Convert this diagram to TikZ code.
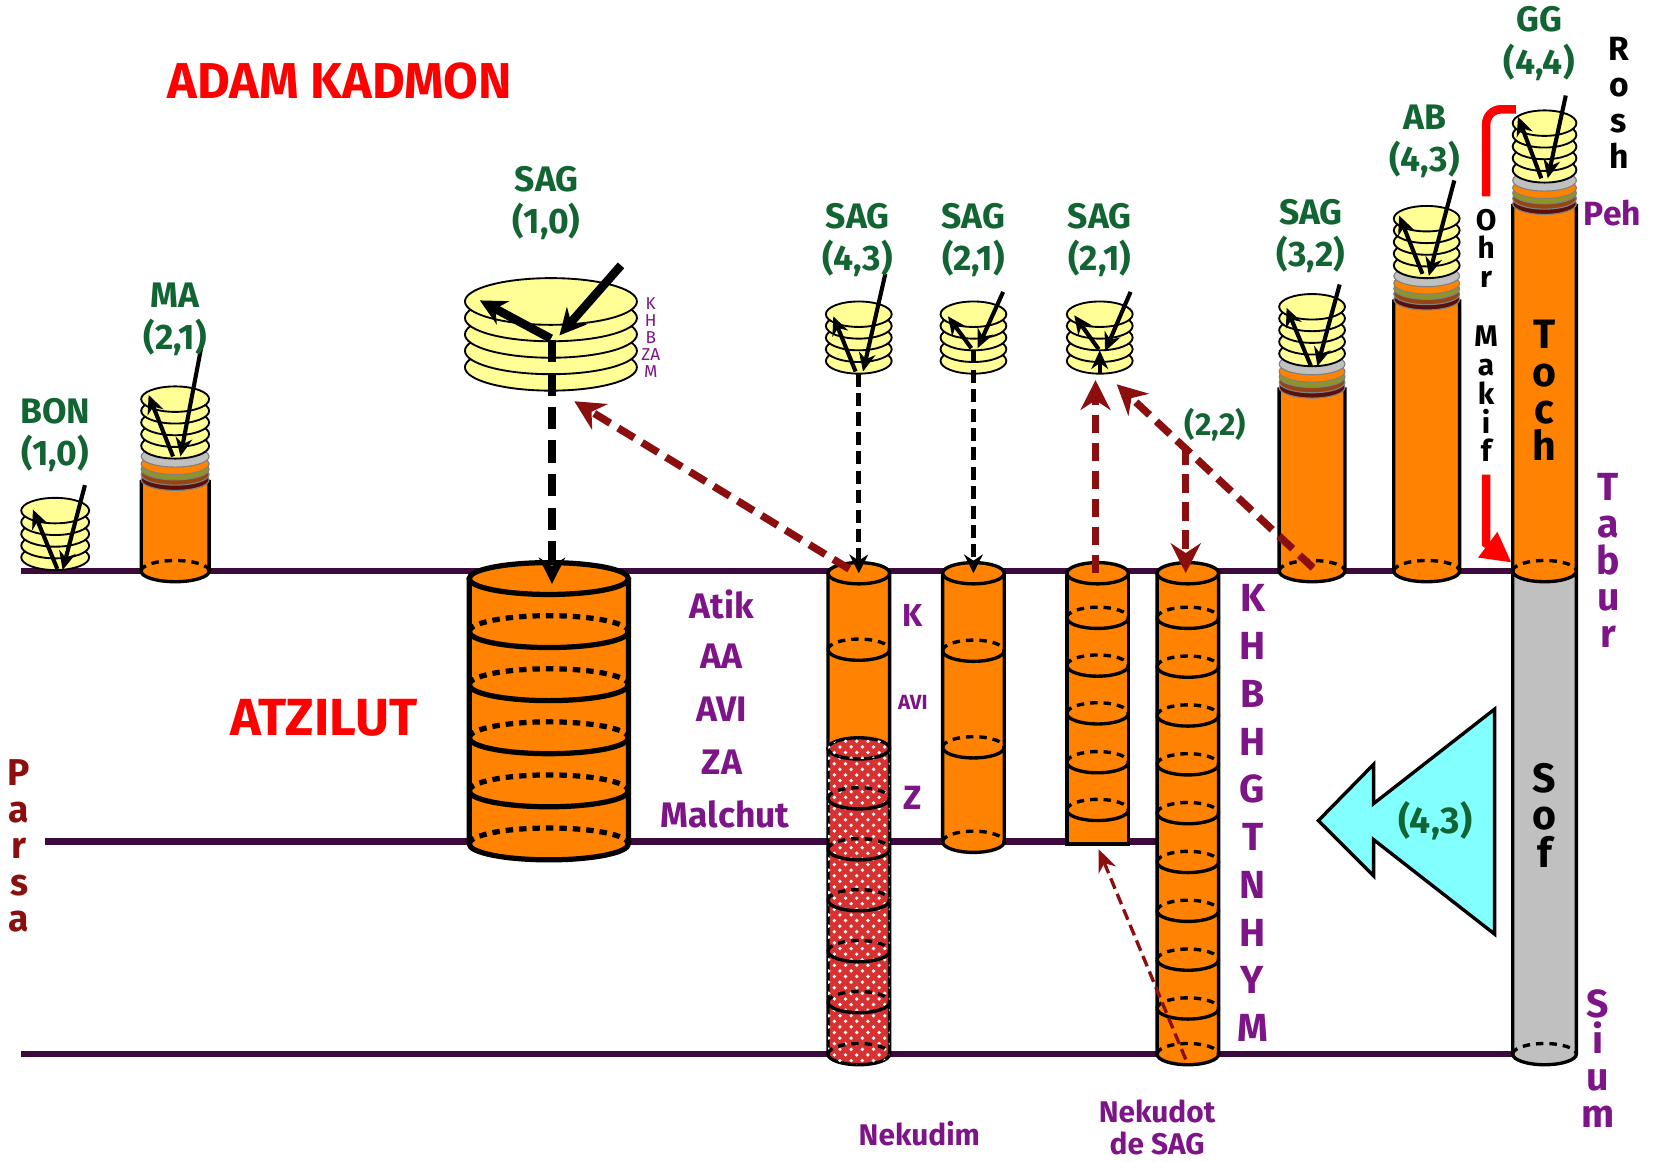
\documentclass[tikz,border=0pt]{standalone}
\usepackage{fontspec}
\setmainfont{Fira Sans}
\usetikzlibrary{arrows.meta,patterns}
\definecolor{kgreen}{RGB}{18,100,50}
\definecolor{kpurple}{RGB}{125,20,135}
\definecolor{kmaroon}{RGB}{140,15,15}
\definecolor{klevel}{RGB}{60,10,60}
\definecolor{korange}{RGB}{255,130,0}
\definecolor{kyellow}{RGB}{255,255,150}
\definecolor{kgray}{RGB}{192,192,192}
\definecolor{kolive}{RGB}{140,150,40}
\definecolor{kbrown}{RGB}{150,70,20}
\definecolor{kdkbrown}{RGB}{90,15,10}
\definecolor{kcyan}{RGB}{130,255,255}
\definecolor{kred}{RGB}{215,50,50}
\definecolor{ktitle}{RGB}{255,0,0}
\newcommand\CylBody[6]{%
  \filldraw[fill=#6, cylline] (#1-#2,#4) -- (#1-#2,#5) arc[start angle=180,end angle=0,x radius=#2,y radius=#3] -- (#1+#2,#4);}
\newcommand\CylTop[5]{\filldraw[fill=#5, cylline] (#1,#4) ellipse[x radius=#2,y radius=#3];}
\newcommand\BackDash[4]{\draw[cylline, dash pattern=on 2pt off 1.6pt] (#1-#2,#4) arc[start angle=180,end angle=360,x radius=#2,y radius=#3];}
\newcommand\Div[4]{\BackDash{#1}{#2}{#3}{#4}%
  \draw[cylline] (#1-#2,#4) arc[start angle=180,end angle=0,x radius=#2,y radius=#3];}
\newcommand\Stack[5]{\foreach \i in {0,...,4} {\filldraw[fill=kyellow, draw=black, line width=0.5pt] (#1,#4-\i*#5) ellipse[x radius=#2,y radius=#3];}}
\newcommand\Bands[4]{%
  \filldraw[fill=kdkbrown,thinl] (#1,#4) ellipse[x radius=#2,y radius=#3];
  \filldraw[fill=kbrown,thinl] (#1,#4-5) ellipse[x radius=#2,y radius=#3];
  \filldraw[fill=kolive,thinl] (#1,#4-10) ellipse[x radius=#2,y radius=#3];
  \filldraw[fill=korange,thinl] (#1,#4-15) ellipse[x radius=#2,y radius=#3];
  \filldraw[fill=kgray,thinl] (#1,#4-22) ellipse[x radius=#2,y radius=#3];}
\begin{document}
\begin{tikzpicture}[x=0.01cm,y=-0.01cm,
  cylline/.style={draw=black,line width=0.9pt},
  thinl/.style={draw=black!50,line width=0.3pt},
  lev/.style={draw=klevel,line width=1.8pt},
  grn/.style={text=kgreen,font=\bfseries\fontsize{9.5}{11.3}\selectfont,align=center,inner sep=0pt},
  prp/.style={text=kpurple,font=\bfseries\fontsize{9.5}{11}\selectfont,inner sep=0pt},
  vert/.style={align=center,inner sep=0pt},
  blkarr/.style={draw=black,line width=1.1pt,-{Stealth[length=5pt,width=4.5pt]}},
  bigarr/.style={draw=black,line width=2.3pt,-{Stealth[length=7pt,width=7pt]}},
  bdash/.style={draw=black,line width=1.3pt,dash pattern=on 3.5pt off 1.7pt,-{Stealth[length=5pt,width=5pt]}},
  bdashthick/.style={draw=black,line width=2.3pt,dash pattern=on 6pt off 3pt,-{Stealth[length=7pt,width=7pt]}},
  mdash/.style={draw=kmaroon,line width=2pt,dash pattern=on 5pt off 2.5pt,-{Stealth[length=8pt,width=8pt]}},
  mthin/.style={draw=kmaroon,line width=0.9pt,dash pattern=on 3pt off 1.5pt,-{Stealth[length=6pt,width=5pt]}},
  ohr/.style={draw=red,line width=2.3pt},
  redfill/.style={fill=kred,postaction={pattern=crosshatch dots,pattern color=white}}
]
\useasboundingbox (0,0) rectangle (1560,1094);
\fill[white] (0,0) rectangle (1560,1094);

% level lines
\draw[lev] (20,538) -- (1430,538);
\draw[lev] (42,793) -- (1092,793);
\draw[lev] (20,993) -- (1430,993);

% BON
\Stack{52}{32}{12}{525}{11}
% MA
\CylBody{165}{32}{10}{452}{538}{korange}
\BackDash{165}{32}{10}{538}
\Bands{165}{32}{10}{452}
\Stack{165}{32}{12}{420}{11}
% SAG (1,0)
\Stack{519}{81}{22}{346}{15.5}
% big Atzilut cylinder
\begin{scope}[cylline/.style={draw=black,line width=1.4pt}]
\CylBody{517}{75}{15}{545}{795}{korange}
\CylTop{517}{75}{15}{545}{korange}
\foreach \yy in {595,645,695,745} {\Div{517}{75}{15}{\yy}}
\BackDash{517}{75}{15}{795}
\end{scope}
% Nekudim
\CylBody{809}{29}{10}{540}{705}{korange}
\CylTop{809}{29}{10}{540}{korange}
\Div{809}{29}{10}{612}
\filldraw[redfill,cylline] (780,705) -- (780,993) arc[start angle=180,end angle=0,x radius=29,y radius=10] -- (838,705);
\filldraw[redfill,cylline] (809,705) ellipse[x radius=29,y radius=10];
\foreach \yy in {752,800,848,896,944} {\Div{809}{29}{10}{\yy}}
\BackDash{809}{29}{10}{993}
% column A
\CylBody{917}{29}{10}{540}{793}{korange}
\CylTop{917}{29}{10}{540}{korange}
\foreach \yy in {613,704} {\Div{917}{29}{10}{\yy}}
\BackDash{917}{29}{10}{793}
% column B
\filldraw[fill=korange,cylline] (1005,540) rectangle (1063,795);
\CylTop{1034}{29}{10}{540}{korange}
\foreach \yy in {582,627,672,718,763} {\Div{1034}{29}{10}{\yy}}
% column C
\CylBody{1119}{29}{10}{540}{993}{korange}
\CylTop{1119}{29}{10}{540}{korange}
\foreach \yy in {582,628,674,720,766,812,858,904,950} {\Div{1119}{29}{10}{\yy}}
\BackDash{1119}{29}{10}{993}
% small stacks
\Stack{809}{31}{12}{340}{11}
\Stack{917}{31}{12}{340}{11}
\Stack{1036}{31}{12}{340}{11}
% SAG (3,2)
\CylBody{1236}{31}{10}{365}{538}{korange}
\BackDash{1236}{31}{10}{538}
\Bands{1236}{31}{10}{365}
\Stack{1236}{31}{12}{333}{11}
% AB
\CylBody{1344}{31}{10}{282}{538}{korange}
\BackDash{1344}{31}{10}{538}
\Bands{1344}{31}{10}{282}
\Stack{1344}{31}{12}{250}{11}
% GG
\CylBody{1455}{30}{10}{538}{993}{kgray}
\BackDash{1455}{30}{10}{993}
\CylBody{1455}{30}{10}{192}{538}{korange}
\BackDash{1455}{30}{10}{538}
\Bands{1455}{30}{10}{192}
\Stack{1455}{30}{12}{160}{11}

% arrows inside stacks
\draw[blkarr] (80,457) -- (59,537);
\draw[blkarr] (54,536) -- (31,480);
\draw[blkarr] (190,325) -- (170,430);
\draw[blkarr] (163,430) -- (140,372);
\draw[bigarr] (585,250) -- (527,316);
\draw[bigarr] (519,319) -- (452,283);
\draw[blkarr] (834,258) -- (813,350);
\draw[blkarr] (806,350) -- (785,298);
\draw[blkarr] (945,275) -- (921,328);
\draw[blkarr] (915,328) -- (893,298);
\draw[blkarr] (1065,275) -- (1041,331);
\draw[blkarr] (1035,329) -- (1012,297);
\draw[blkarr] (1036,352) -- (1036,330);
\draw[blkarr] (1262,268) -- (1241,345);
\draw[blkarr] (1235,345) -- (1212,290);
\draw[blkarr] (1370,170) -- (1346,260);
\draw[blkarr] (1340,258) -- (1318,203);
\draw[blkarr] (1475,90) -- (1458,168);
\draw[blkarr] (1452,168) -- (1430,110);

% named coordinates for connectors
\coordinate (sagA) at (520,320);
\coordinate (bigtop) at (520,550);
\coordinate (s43) at (809,352);
\coordinate (nektop) at (809,540);
\coordinate (s21a) at (917,330);
\coordinate (atop) at (917,540);
\coordinate (nekfrom) at (800,536);
\coordinate (sagbot) at (541,378);
\coordinate (btop) at (1032,540);
\coordinate (s21b) at (1032,358);
\coordinate (s32foot) at (1237,535);
\coordinate (s21bside) at (1052,362);
\coordinate (c22) at (1117,420);
\coordinate (ctop) at (1117,540);
\coordinate (cbot) at (1117,998);
\coordinate (bbot) at (1035,800);

\draw[bdashthick] (sagA) -- (bigtop);
\draw[bdash] (s43) -- (nektop);
\draw[bdash] (s21a) -- (atop);
\draw[mdash] (nekfrom) -- (sagbot);
\draw[mdash] (btop) -- (s21b);
\draw[mdash] (s32foot) -- (s21bside);
\draw[mdash] (c22) -- (ctop);
\draw[mthin] (cbot) -- (bbot);

% Ohr Makif bracket
\draw[ohr,rounded corners=4pt] (1428,103) -- (1400,103) -- (1400,185);
\draw[ohr,-{Triangle[length=8pt,width=8pt]}] (1400,447) -- (1400,512) -- (1424,530);

% cyan arrow
\filldraw[fill=kcyan,draw=black,line width=0.9pt] (1408,668) -- (1294,757) -- (1294,720) -- (1242,773) -- (1294,825) -- (1294,791) -- (1408,880) -- cycle;

% texts
\node[text=ktitle,font=\bfseries\fontsize{13.5}{14}\selectfont,inner sep=0pt] (title) at (320,76) {ADAM KADMON};
\node[text=ktitle,font=\bfseries\fontsize{14}{15}\selectfont,inner sep=0pt] (atz) at (305,676) {ATZILUT};
\node[grn] (lbon) at (52,410) {BON\\(1,0)};
\node[grn] (lma) at (165,301) {MA\\(2,1)};
\node[grn] (lsag10) at (515,191) {SAG\\(1,0)};
\node[grn] (lsag43) at (808,226) {SAG\\(4,3)};
\node[grn] (lsag21a) at (917,226) {SAG\\(2,1)};
\node[grn] (lsag21b) at (1036,226) {SAG\\(2,1)};
\node[grn] (lsag32) at (1235,222) {SAG\\(3,2)};
\node[grn] (lab) at (1342,133) {AB\\(4,3)};
\node[grn] (lgg) at (1450,41) {GG\\(4,4)};
\node[grn,font=\bfseries\fontsize{8.5}{10}\selectfont] (l22) at (1145,400) {(2,2)};
\node[grn,font=\bfseries\fontsize{10}{11}\selectfont] (l43) at (1352,773) {(4,3)};

\node[vert,text=kpurple,font=\fontsize{4.6}{4.6}\selectfont] (khb) at (613,318) {K\\H\\B\\ZA\\M};
\node[prp] (atik) at (680,569) {Atik};
\node[prp] (aa) at (680,618) {AA};
\node[prp] (avi) at (680,668) {AVI};
\node[prp] (za) at (680,718) {ZA};
\node[prp] (mal) at (683,767) {Malchut};
\node[prp,font=\bfseries\fontsize{8.5}{10}\selectfont] (nk) at (860,580) {K};
\node[prp,font=\bfseries\fontsize{5.5}{6}\selectfont] (navi) at (860,662) {AVI};
\node[prp,font=\bfseries\fontsize{9}{10}\selectfont] (nz) at (860,752) {Z};
\node[vert,text=kpurple,font=\bfseries\fontsize{10.5}{12.8}\selectfont] (khbh) at (1180,766) {K\\H\\B\\H\\G\\T\\N\\H\\Y\\M};
\node[prp,font=\bfseries\fontsize{8}{10}\selectfont] (nekudim) at (866,1068) {Nekudim};
\node[vert,text=kpurple,font=\bfseries\fontsize{8}{8.6}\selectfont] (nds) at (1090,1062) {Nekudot\\de SAG};

\node[vert,font=\bfseries\fontsize{9}{9.7}\selectfont] (rosh) at (1525,97) {R\\o\\s\\h};
\node[prp,font=\bfseries\fontsize{9}{10}\selectfont] (peh) at (1519,201) {Peh};
\node[vert,text=kpurple,font=\bfseries\fontsize{10.5}{9.8}\selectfont] (tabur) at (1515,528) {T\\a\\b\\u\\r};
\node[vert,text=kpurple,font=\bfseries\fontsize{10.5}{9.8}\selectfont] (sium) at (1505,997) {S\\i\\u\\m};
\node[vert,text=kmaroon,font=\bfseries\fontsize{10}{9.8}\selectfont] (parsa) at (18,797) {P\\a\\r\\s\\a};
\node[vert,font=\bfseries\fontsize{11}{10}\selectfont] (toch) at (1455,368) {T\\o\\c\\h};
\node[vert,font=\bfseries\fontsize{11}{10}\selectfont] (sof) at (1455,768) {S\\o\\f};
\node[vert,font=\bfseries\fontsize{8}{7.7}\selectfont] (ohrm) at (1400,316) {O\\h\\r\\[8.2pt]M\\a\\k\\i\\f};
\end{tikzpicture}
\end{document}
